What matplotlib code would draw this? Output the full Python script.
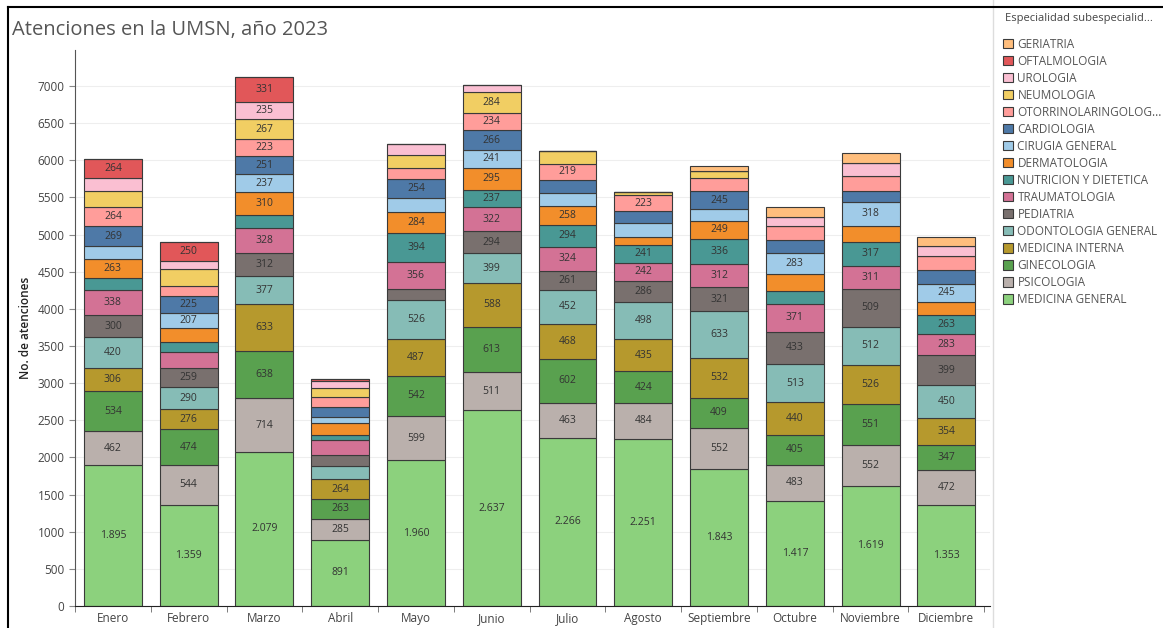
import numpy as np
import matplotlib
matplotlib.use('Agg')
import matplotlib.pyplot as plt
from matplotlib.patches import Patch
from matplotlib.lines import Line2D

plt.rcParams['font.family'] = ['Open Sans', 'DejaVu Sans']

meses = ['Enero', 'Febrero', 'Marzo', 'Abril', 'Mayo', 'Junio', 'Julio',
         'Agosto', 'Septiembre', 'Octubre', 'Noviembre', 'Diciembre']

# de abajo hacia arriba en la pila
medicina_general = [1895, 1359, 2079, 891, 1960, 2637, 2266, 2251, 1843, 1417, 1619, 1353]
psicologia = [462, 544, 714, 285, 599, 511, 463, 484, 552, 483, 552, 472]
ginecologia = [534, 474, 638, 263, 542, 613, 602, 424, 409, 405, 551, 347]
medicina_interna = [306, 276, 633, 264, 487, 588, 468, 435, 532, 440, 526, 354]
odontologia = [420, 290, 377, 179, 526, 399, 452, 498, 633, 513, 512, 450]
pediatria = [300, 259, 312, 152, 155, 294, 261, 286, 321, 433, 509, 399]
traumatologia = [338, 215, 328, 206, 356, 322, 324, 242, 312, 371, 311, 283]
nutricion = [155, 130, 180, 67, 394, 237, 294, 241, 336, 179, 317, 263]
dermatologia = [263, 193, 310, 157, 284, 295, 258, 105, 249, 224, 224, 170]
cirugia = [170, 207, 237, 81, 195, 241, 175, 195, 150, 283, 318, 245]
cardiologia = [269, 225, 251, 139, 254, 266, 170, 150, 245, 179, 143, 184]
otorrino = [264, 134, 223, 130, 148, 234, 219, 223, 185, 193, 202, 188]
neumologia = [206, 224, 267, 121, 175, 284, 170, 40, 85, 0, 0, 0]
urologia = [175, 117, 235, 90, 148, 90, 0, 0, 0, 112, 179, 134]
oftalmologia = [264, 250, 331, 31, 0, 0, 0, 0, 0, 0, 0, 0]
geriatria = [0, 0, 0, 0, 0, 0, 0, 0, 65, 134, 134, 125]

series = [
    ('MEDICINA GENERAL', medicina_general, '#8CD17D'),
    ('PSICOLOGIA', psicologia, '#BAB0AC'),
    ('GINECOLOGIA', ginecologia, '#59A14F'),
    ('MEDICINA INTERNA', medicina_interna, '#B6992D'),
    ('ODONTOLOGIA GENERAL', odontologia, '#86BCB6'),
    ('PEDIATRIA', pediatria, '#79706E'),
    ('TRAUMATOLOGIA', traumatologia, '#D37295'),
    ('NUTRICION Y DIETETICA', nutricion, '#499894'),
    ('DERMATOLOGIA', dermatologia, '#F28E2B'),
    ('CIRUGIA GENERAL', cirugia, '#A0CBE8'),
    ('CARDIOLOGIA', cardiologia, '#4E79A7'),
    ('OTORRINOLARINGOLOG...', otorrino, '#FF9D9A'),
    ('NEUMOLOGIA', neumologia, '#F1CE63'),
    ('UROLOGIA', urologia, '#FABFD2'),
    ('OFTALMOLOGIA', oftalmologia, '#E15759'),
    ('GERIATRIA', geriatria, '#FFBE7D'),
]

# segmentos sin etiqueta aunque sean grandes
ocultas = {('NEUMOLOGIA', 0), ('TRAUMATOLOGIA', 1), ('NEUMOLOGIA', 1),
           ('TRAUMATOLOGIA', 3), ('DERMATOLOGIA', 9), ('DERMATOLOGIA', 10)}

fig = plt.figure(figsize=(11.63, 6.28), dpi=100)
ax = fig.add_axes([0.0645, 0.035, 0.787, 0.885])

x = np.arange(len(meses))
base = np.zeros(len(meses))
for nombre, vals, color in series:
    vals = np.array(vals, dtype=float)
    ax.bar(x, vals, bottom=base, width=0.765, color=color,
           edgecolor='#3a3a3a', linewidth=0.8, zorder=2)
    for i, v in enumerate(vals):
        if v >= 205 and (nombre, i) not in ocultas:
            txt = f'{int(v):,}'.replace(',', '.')
            ax.text(x[i], base[i] + v / 2, txt, ha='center', va='center',
                    fontsize=7.5, color='#333333', zorder=3)
    base += vals

ax.set_xlim(-0.49, 11.58)
ax.set_ylim(0, 7480)
ax.set_yticks(np.arange(0, 7001, 500))
ax.set_xticks(x)
ax.set_xticklabels(meses)
ax.set_xticks(np.arange(-0.5, 12, 1), minor=True)
ax.tick_params(axis='x', which='major', length=0, labelsize=8.5, colors='#444444', pad=4)
ax.tick_params(axis='x', which='minor', length=4, color='#666666')
ax.tick_params(axis='y', length=4, labelsize=8.5, colors='#444444', color='#888888')
ax.grid(axis='y', color='#eeeeee', linewidth=0.8, zorder=0)
ax.set_axisbelow(True)
for s in ['top', 'right']:
    ax.spines[s].set_visible(False)
ax.spines['left'].set_color('#555555')
ax.spines['bottom'].set_color('#222222')
ax.set_ylabel('No. de atenciones', fontsize=8.5, color='#222222', labelpad=4,
              fontweight='semibold')

fig.text(0.010, 0.952, 'Atenciones en la UMSN, año 2023', fontsize=14.5,
         color='#555555', ha='left', va='center')

# leyenda
handles = [Patch(facecolor=c, edgecolor='#3a3a3a', linewidth=0.8, label=n)
           for n, v, c in series[::-1]]
fig.text(1005 / 1163, 1 - 18 / 628, 'Especialidad subespecialid...', fontsize=8,
         color='#444444', ha='left', va='center')
fig.legend(handles=handles, loc='upper left', bbox_to_anchor=(998 / 1163, 1 - 33 / 628),
           frameon=False, fontsize=8.5, labelcolor='#555555', handlelength=0.85,
           handleheight=0.85, handletextpad=0.4, labelspacing=0.34, borderaxespad=0)

# marco y separador
fig.add_artist(Line2D([993 / 1163, 993 / 1163], [0, 1], color='#dddddd', linewidth=1))
fig.add_artist(Line2D([8 / 1163, 8 / 1163], [0, 1 - 7 / 628], color='black', linewidth=1.5))
fig.add_artist(Line2D([8 / 1163, 1], [1 - 7 / 628, 1 - 7 / 628], color='black', linewidth=1.5))

fig.savefig('out.png', dpi=100)
